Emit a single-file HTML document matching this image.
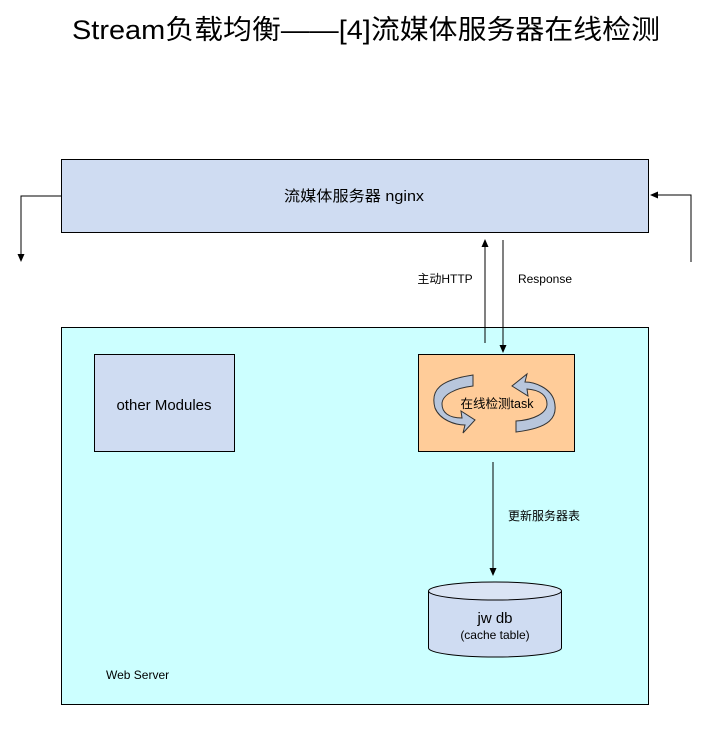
<!DOCTYPE html>
<html><head><meta charset="utf-8"><style>body{margin:0;background:#fff}svg{display:block}</style></head><body>
<svg width="712" height="729" xmlns="http://www.w3.org/2000/svg" font-family="'Liberation Sans','Noto Sans CJK SC',sans-serif">
<defs><marker id="a" markerWidth="8" markerHeight="8" refX="7" refY="4" orient="auto" markerUnits="userSpaceOnUse"><path d="M0,0.5 L8,4 L0,7.5z" fill="#000"/></marker></defs>
<text x="366" y="39" font-size="27" text-anchor="middle" fill="#000" textLength="588" lengthAdjust="spacingAndGlyphs">Stream负载均衡——[4]流媒体服务器在线检测</text>
<rect x="61.5" y="159.5" width="587" height="73" fill="#cfdcf2" stroke="#000"/>
<text x="354" y="201" font-size="15" text-anchor="middle" textLength="140" lengthAdjust="spacingAndGlyphs">流媒体服务器 nginx</text>
<polyline points="61,196 21,196 21,261" fill="none" stroke="#000" marker-end="url(#a)"/>
<polyline points="691,262 691,195 651,195" fill="none" stroke="#000" marker-end="url(#a)"/>
<rect x="61.5" y="327.5" width="587" height="377" fill="#ccffff" stroke="#000"/>
<line x1="485" y1="343" x2="485" y2="240" stroke="#000" marker-end="url(#a)"/>
<line x1="503" y1="240" x2="503" y2="352" stroke="#000" marker-end="url(#a)"/>
<text x="445" y="283" font-size="12" text-anchor="middle">主动HTTP</text>
<text x="545" y="283" font-size="12" text-anchor="middle">Response</text>
<rect x="94.5" y="354.5" width="140" height="97" fill="#cfdcf2" stroke="#000"/>
<text x="164" y="410" font-size="15" text-anchor="middle">other Modules</text>
<rect x="418.5" y="354.5" width="156" height="97" fill="#ffcc99" stroke="#000"/>
<path d="M473,375 C440,380 430,390 435,408 C440,420 455,425 465,425 L463,433 L475,420 L461,411 L462,418 C448,418 442,412 442,404 C442,395 455,388 473,386 Z" fill="#b8c6dc" stroke="#333"/>
<path d="M516,432 C549,428 559,418 554,400 C550,388 535,382 525,382 L527,374 L512,386 L528,396 L527,389 C541,390 547,396 547,404 C547,413 534,420 516,421 Z" fill="#b8c6dc" stroke="#333"/>
<text x="497" y="408" font-size="12.5" text-anchor="middle">在线检测task</text>
<line x1="493" y1="462" x2="493" y2="575" stroke="#000" marker-end="url(#a)"/>
<text x="544" y="520" font-size="12" text-anchor="middle">更新服务器表</text>
<path d="M428.5,591 L428.5,648 A66.5,9 0 0 0 561.5,648 L561.5,591" fill="#cfdcf2" stroke="#000"/>
<ellipse cx="495" cy="591" rx="66.5" ry="9" fill="#dae4f4" stroke="#000"/>
<text x="495" y="623" font-size="15" text-anchor="middle">jw db</text>
<text x="495" y="639" font-size="12" text-anchor="middle">(cache table)</text>
<text x="106" y="679" font-size="12">Web Server</text>
</svg>
</body></html>
